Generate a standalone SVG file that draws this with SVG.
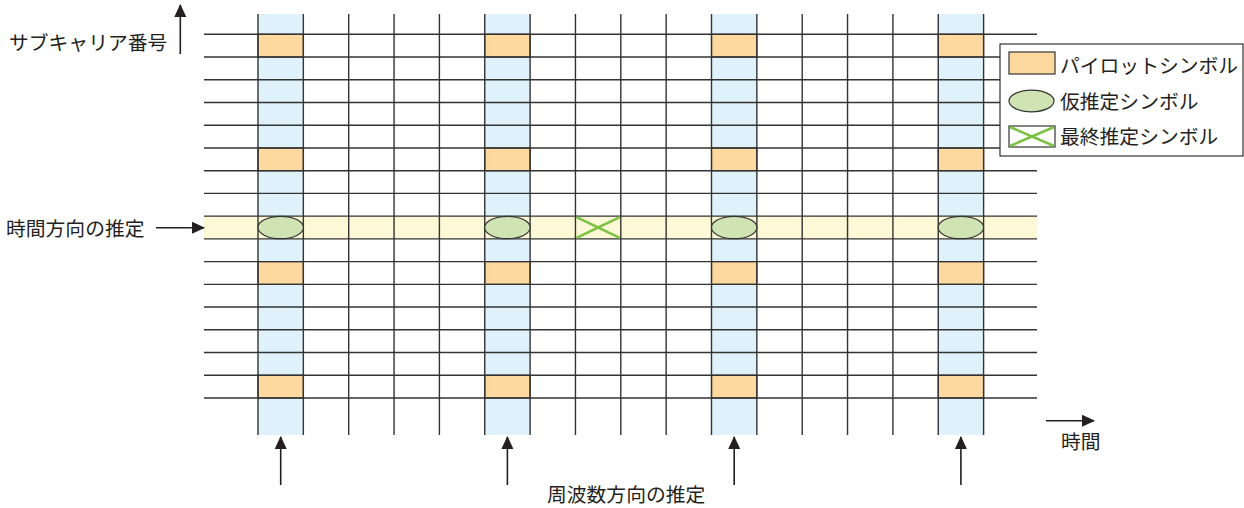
<svg xmlns="http://www.w3.org/2000/svg" width="1244" height="508" viewBox="0 0 1244 508">
<defs>
<style>
.t{font-family:"Noto Sans CJK JP","Noto Sans",sans-serif;font-size:19.8px;fill:#231f20}
.g{stroke:#333;stroke-width:1.4;fill:none}
.blue{fill:#dff1fa}
.pil{fill:#fdd9a0;stroke:#333;stroke-width:1.2}
.tmp{fill:#cfe3b3;stroke:#333;stroke-width:1.2}
.fin{stroke:#7cc242;stroke-width:2.5;fill:none}
.ar{stroke:#231f20;stroke-width:1.6;fill:none;marker-end:url(#ah)}
</style>
<marker id="ah" markerWidth="13" markerHeight="13" refX="12" refY="6.5" orient="auto" markerUnits="userSpaceOnUse">
<path d="M0,0.5 L13,6.5 L0,12.5 z" fill="#231f20"/>
</marker>
</defs>
<rect width="1244" height="508" fill="#fff"/>
<g id="band-freq">
<rect class="blue" x="258" y="14" width="45.35" height="421"/>
<rect class="blue" x="484.75" y="14" width="45.35" height="421"/>
<rect class="blue" x="711.5" y="14" width="45.35" height="421"/>
<rect class="blue" x="938.25" y="14" width="45.35" height="421"/>
</g>
<g id="band-time">
<rect x="204" y="216.1" width="833" height="22.73" fill="#fdf9d6"/>
</g>
<g id="pilots">
<rect class="pil" x="258" y="34.3" width="45.35" height="22.73"/>
<rect class="pil" x="484.75" y="34.3" width="45.35" height="22.73"/>
<rect class="pil" x="711.5" y="34.3" width="45.35" height="22.73"/>
<rect class="pil" x="938.25" y="34.3" width="45.35" height="22.73"/>
<rect class="pil" x="258" y="147.95" width="45.35" height="22.73"/>
<rect class="pil" x="484.75" y="147.95" width="45.35" height="22.73"/>
<rect class="pil" x="711.5" y="147.95" width="45.35" height="22.73"/>
<rect class="pil" x="938.25" y="147.95" width="45.35" height="22.73"/>
<rect class="pil" x="258" y="261.6" width="45.35" height="22.73"/>
<rect class="pil" x="484.75" y="261.6" width="45.35" height="22.73"/>
<rect class="pil" x="711.5" y="261.6" width="45.35" height="22.73"/>
<rect class="pil" x="938.25" y="261.6" width="45.35" height="22.73"/>
<rect class="pil" x="258" y="375.25" width="45.35" height="22.73"/>
<rect class="pil" x="484.75" y="375.25" width="45.35" height="22.73"/>
<rect class="pil" x="711.5" y="375.25" width="45.35" height="22.73"/>
<rect class="pil" x="938.25" y="375.25" width="45.35" height="22.73"/>
</g>
<g id="grid" class="g">
<path d="M204,34.3H1037M204,57.03H1037M204,79.76H1037M204,102.49H1037M204,125.22H1037M204,147.95H1037M204,170.68H1037M204,193.41H1037M204,216.14H1037M204,238.87H1037M204,261.6H1037M204,284.33H1037M204,307.06H1037M204,329.79H1037M204,352.52H1037M204,375.25H1037M204,397.98H1037"/>
<path d="M258,14V435M303.35,14V435M348.7,14V435M394.05,14V435M439.4,14V435M484.75,14V435M530.1,14V435M575.45,14V435M620.8,14V435M666.15,14V435M711.5,14V435M756.85,14V435M802.2,14V435M847.55,14V435M892.9,14V435M938.25,14V435M983.6,14V435"/>
</g>
<g id="tentative">
<ellipse class="tmp" cx="280.7" cy="227.5" rx="22.7" ry="11.2"/>
<ellipse class="tmp" cx="507.4" cy="227.5" rx="22.7" ry="11.2"/>
<ellipse class="tmp" cx="734.2" cy="227.5" rx="22.7" ry="11.2"/>
<ellipse class="tmp" cx="960.9" cy="227.5" rx="22.7" ry="11.2"/>
</g>
<g id="final">
<path class="fin" d="M576.5,217.2L619.8,237.8M576.5,237.8L619.8,217.2"/>
</g>
<g id="legend">
<rect x="1000" y="44" width="243" height="112" fill="#fff" stroke="#333" stroke-width="1.2"/>
<rect class="pil" x="1009" y="52" width="46" height="22"/>
<text class="t" x="1060" y="72.5">パイロットシンボル</text>
<ellipse class="tmp" cx="1031.5" cy="101" rx="22.5" ry="10.8"/>
<text class="t" x="1060" y="109">仮推定シンボル</text>
<rect x="1009" y="126" width="46" height="21" fill="#fff" stroke="#333" stroke-width="1.2"/>
<path class="fin" d="M1010,127L1054,146M1010,146L1054,127"/>
<text class="t" x="1060" y="144">最終推定シンボル</text>
</g>
<g id="labels">
<text class="t" x="9" y="49.5">サブキャリア番号</text>
<text class="t" x="6" y="235.5">時間方向の推定</text>
<text class="t" x="1061" y="449">時間</text>
<text class="t" x="547" y="502">周波数方向の推定</text>
</g>
<g id="connectors">
<path class="ar" d="M180.3,54V5"/>
<path class="ar" d="M156,227.7H204"/>
<path class="ar" d="M1046,420.7H1094"/>
<path class="ar" d="M280.7,485V437"/>
<path class="ar" d="M507.4,485V437"/>
<path class="ar" d="M734.2,485V437"/>
<path class="ar" d="M960.9,485V437"/>
</g>
</svg>
